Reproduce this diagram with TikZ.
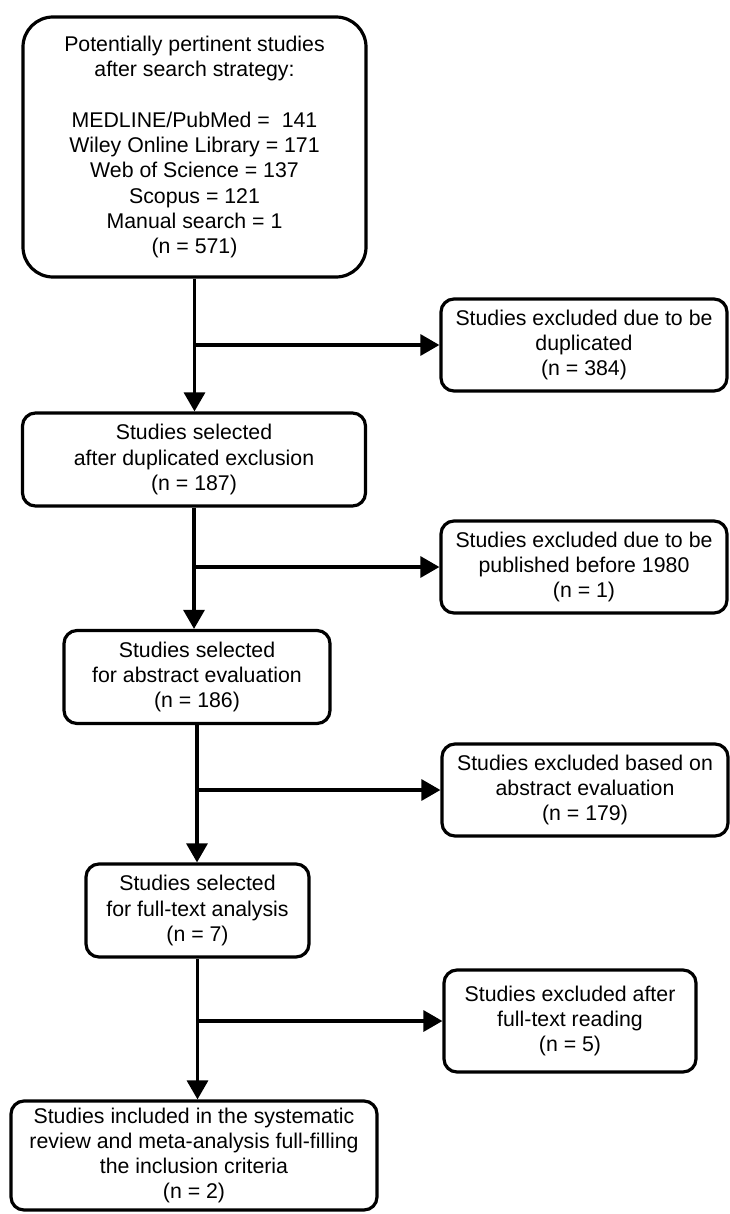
\documentclass[tikz,border=0pt]{standalone}
\usepackage{fontspec}
\setmainfont{Liberation Sans}
\usetikzlibrary{arrows.meta}
\begin{document}
\begin{tikzpicture}[x=1pt,y=-1pt,
  box/.style={draw, line width=3.2pt, rounded corners=13pt, align=center,
    inner sep=0pt, anchor=center, font=\fontsize{21.3}{25.3}\selectfont},
  flow/.style={line width=3.2pt, -{Triangle[length=19pt,width=21pt]}}]
\useasboundingbox (0,0) rectangle (730,1214);

% main column
\node[box, minimum width=343pt, minimum height=260pt, rounded corners=30pt] (start) at (194.5,147)
  {Potentially pertinent studies\\after search strategy:\\[25.3pt]
   MEDLINE/PubMed =\ \ 141\\Wiley Online Library = 171\\Web of Science = 137\\
   Scopus = 121\\Manual search = 1\\(n = 571)};
\node[box, minimum width=343pt, minimum height=93pt] (dedup) at (194,459.5)
  {Studies selected\\after duplicated exclusion\\(n = 187)};
\node[box, minimum width=266pt, minimum height=93pt] (abstr) at (197,677)
  {Studies selected\\for abstract evaluation\\(n = 186)};
\node[box, minimum width=223pt, minimum height=93pt] (full) at (197.5,910.5)
  {Studies selected\\for full-text analysis\\(n = 7)};
\node[box, minimum width=366pt, minimum height=109pt] (incl) at (194,1155.5)
  {Studies included in the systematic\\review and meta-analysis full-filling\\the inclusion criteria\\(n = 2)};

% exclusion boxes
\node[box, minimum width=286pt, minimum height=92pt] (exA) at (584,345)
  {Studies excluded due to be\\duplicated\\(n = 384)};
\node[box, minimum width=286pt, minimum height=92pt] (exB) at (584,567)
  {Studies excluded due to be\\published before 1980\\(n = 1)};
\node[box, minimum width=286pt, minimum height=92pt] (exC) at (585,790)
  {Studies excluded based on\\abstract evaluation\\(n = 179)};
\node[box, minimum width=252pt, minimum height=102pt] (exD) at (570,1021)
  {Studies excluded after\\full-text reading\\(n = 5)};

% vertical flow
\draw[flow] (start.south) -- (start.south |- dedup.north);
\draw[flow] (dedup.south) -- (dedup.south |- abstr.north);
\draw[flow] (abstr.south) -- (abstr.south |- full.north);
\draw[flow] (full.south) -- (full.south |- incl.north);

% branches to exclusions
\draw[flow] (start.south |- exA.west) -- (exA.west);
\draw[flow] (dedup.south |- exB.west) -- (exB.west);
\draw[flow] (abstr.south |- exC.west) -- (exC.west);
\draw[flow] (full.south |- exD.west) -- (exD.west);
\end{tikzpicture}
\end{document}
